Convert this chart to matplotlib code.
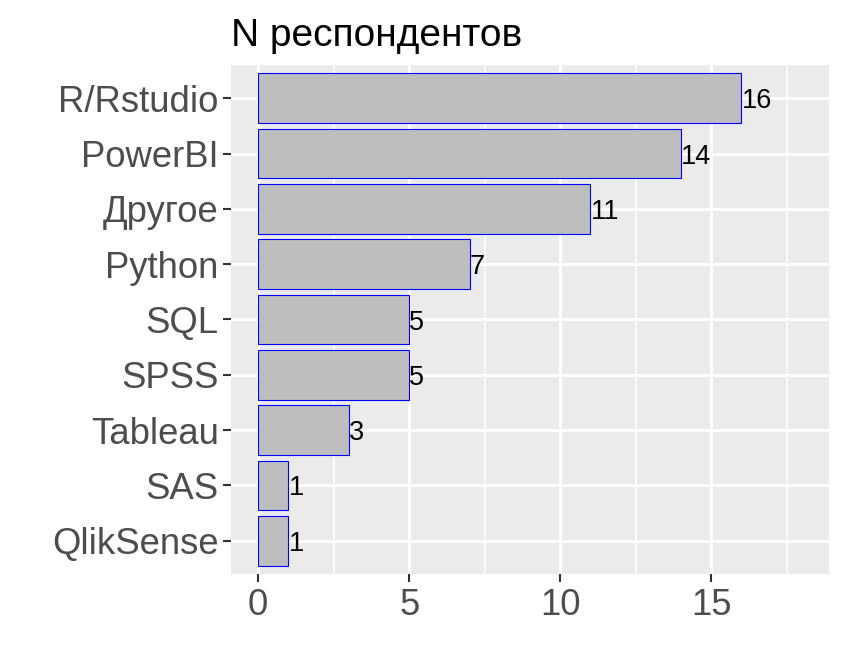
import matplotlib
matplotlib.use("Agg")
import matplotlib.pyplot as plt
import numpy as np

# data, bottom to top as drawn
tools  = ["QlikSense", "SAS", "Tableau", "SPSS", "SQL", "Python", "Другое", "PowerBI", "R/Rstudio"]
counts = [1, 1, 3, 5, 5, 7, 11, 14, 16]

plt.rcParams["font.family"] = ["Liberation Sans", "DejaVu Sans"]

fig = plt.figure(figsize=(8.46, 6.72), dpi=100)
ax = fig.add_axes([231 / 846, 1 - 574 / 672, (829 - 231) / 846, (574 - 65) / 672])
ax.set_facecolor("#EBEBEB")

ypos = np.arange(1, len(tools) + 1)
ax.set_xlim(-0.9, 18.9)
ax.set_ylim(0.4, len(tools) + 0.6)

# grid
for v in [2.5, 7.5, 12.5, 17.5]:
    ax.axvline(v, color="white", lw=1.1, zorder=0)
for v in [0, 5, 10, 15]:
    ax.axvline(v, color="white", lw=2.1, zorder=0)
for y in ypos:
    ax.axhline(y, color="white", lw=2.1, zorder=0)

ax.barh(ypos, counts, height=0.9, color="#BEBEBE", edgecolor="#0000FF",
        linewidth=0.8, zorder=2)
for y, c in zip(ypos, counts):
    ax.text(c, y, str(c), ha="left", va="center_baseline", fontsize=19.5,
            color="black", zorder=3)

ax.set_yticks(ypos)
ax.set_yticklabels(tools)
ax.set_xticks([0, 5, 10, 15])
ax.tick_params(axis="both", colors="#333333", length=6, width=1.5,
               labelsize=26.3, labelcolor="#4D4D4D")
ax.tick_params(axis="y", pad=3)
ax.tick_params(axis="x", pad=4)
for s in ax.spines.values():
    s.set_visible(False)

fig.text(231 / 846, 1 - 46 / 672, "N респондентов", fontsize=28,
         ha="left", va="baseline", color="black")

fig.savefig("out.png", dpi=100)
